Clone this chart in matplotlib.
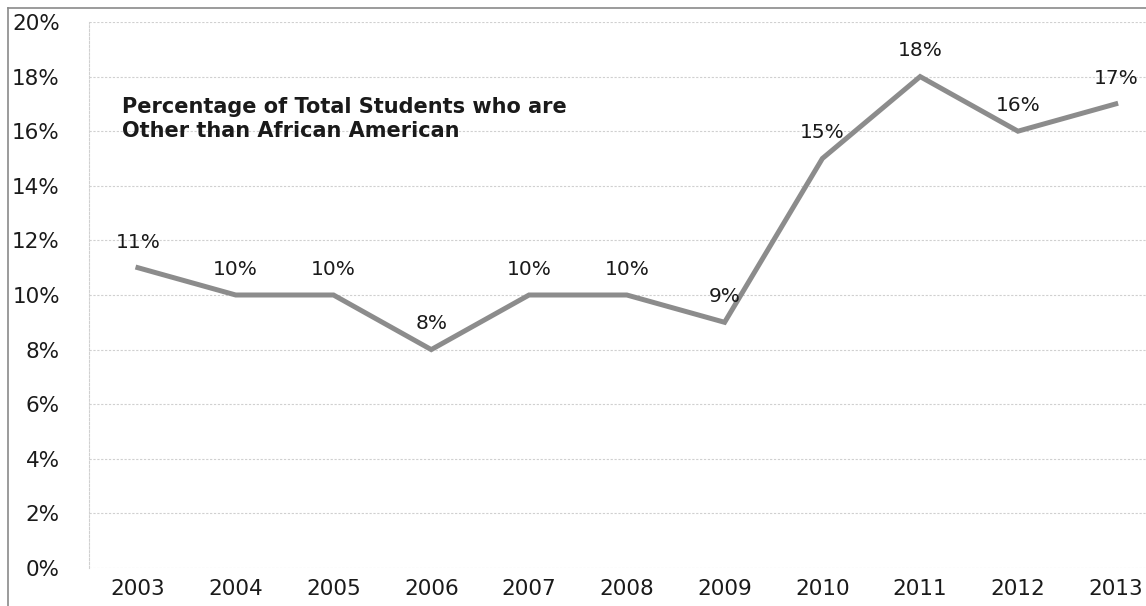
import matplotlib.pyplot as plt
from matplotlib.lines import Line2D

years = ['2003', '2004', '2005', '2006', '2007', '2008', '2009', '2010', '2011', '2012', '2013']
pct = [11, 10, 10, 8, 10, 10, 9, 15, 18, 16, 17]
yticks = [0, 2, 4, 6, 8, 10, 12, 14, 16, 18, 20]
title = 'Percentage of Total Students who are\nOther than African American'

plt.rcParams['font.family'] = ['DejaVu Sans']

fig = plt.figure(figsize=(11.46, 6.06), dpi=100)
ax = fig.add_axes([0.0777, 0.0627, 0.93, 0.901])

x = list(range(len(years)))
ax.plot(x, pct, color='#8c8c8c', lw=3.6, solid_joinstyle='miter', zorder=3)

# data labels above each point
for xi, v in zip(x, pct):
    ax.annotate('%d%%' % v, (xi, v), xytext=(0, 18.5), textcoords='offset points',
                ha='center', va='center', fontsize=14.5, color='#1a1a1a')

ax.set_xlim(-0.5, 10.4)
ax.set_ylim(0, 20)
ax.set_xticks(x)
ax.set_xticklabels(years, fontsize=15.5, color='#1a1a1a')
ax.set_yticks(yticks)
ax.set_yticklabels(['%d%%' % t for t in yticks], fontsize=15.5, color='#1a1a1a', ha='right')
ax.tick_params(axis='y', length=0, pad=21)
ax.tick_params(axis='x', length=0, pad=8)

ax.grid(axis='y', color='#d0d0d0', lw=0.8, ls=(0, (2, 1.5)))
for s in ['top', 'right', 'bottom']:
    ax.spines[s].set_visible(False)
ax.spines['left'].set_color('#d0d0d0')
ax.spines['left'].set_linestyle((0, (2, 1.5)))
ax.spines['left'].set_linewidth(0.8)

ax.text(0.031, 0.862, title, transform=ax.transAxes, fontsize=15, fontweight='bold',
        family='DejaVu Sans', color='#1a1a1a', va='top', ha='left', linespacing=1.2)

# outer chart frame (left and top edges visible)
fig.add_artist(Line2D([8 / 1146, 8 / 1146], [0, 1 - 8 / 606], color='#8a8a8a', lw=1.2))
fig.add_artist(Line2D([8 / 1146, 1], [1 - 8 / 606, 1 - 8 / 606], color='#8a8a8a', lw=1.2))

fig.savefig('out.png', dpi=100)
